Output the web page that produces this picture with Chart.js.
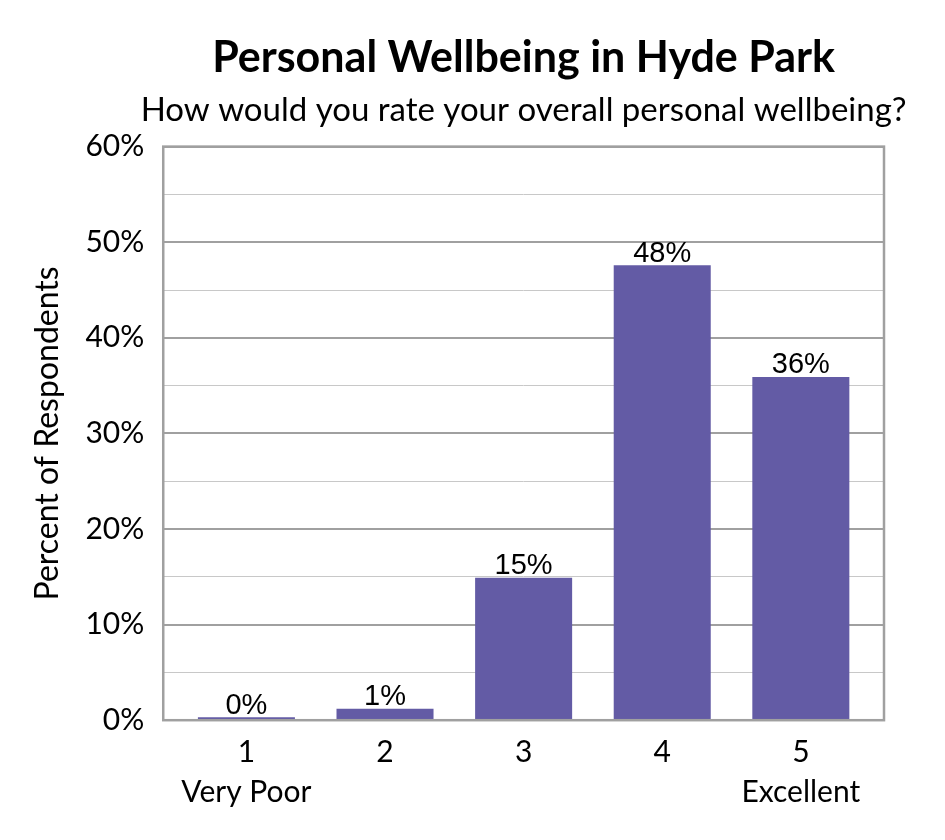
<!DOCTYPE html>
<html>
<head>
<meta charset="utf-8">
<script src="https://cdn.jsdelivr.net/npm/chart.js@4.4.0/dist/chart.umd.min.js"></script>
<style>
  body { margin: 0; background: #fff; }
  #wrap { width: 945px; height: 840px; }
</style>
</head>
<body>
<div id="wrap"><canvas id="wellbeingChart"></canvas></div>
<script>
const ratingValues = [1, 2, 3, 4, 5];
const ratingNames = ['Very Poor', '', '', '', 'Excellent'];
const percents = [0.3, 1.2, 14.9, 47.6, 35.9];
const pctLabels = ['0%', '1%', '15%', '48%', '36%'];
const subtitleText = 'How would you rate your overall personal wellbeing?';

const FONT = 'Lato, "Open Sans", sans-serif';

// value labels above each bar
const barLabels = {
    id: 'barLabels',
    afterDatasetsDraw(chart) {
        const ctx = chart.ctx;
        const meta = chart.getDatasetMeta(0);
        ctx.save();
        ctx.font = '29px "Liberation Sans", Arial, sans-serif';
        ctx.fillStyle = '#000';
        ctx.textAlign = 'center';
        ctx.textBaseline = 'bottom';
        meta.data.forEach((bar, i) => {
            ctx.fillText(pctLabels[i], bar.x, bar.y + 3);
        });
        ctx.restore();
    }
};

// grey frame round the plot area + subtitle (it runs wider than the plot)
const plotFrame = {
    id: 'plotFrame',
    afterDraw(chart) {
        const a = chart.chartArea;
        const ctx = chart.ctx;
        ctx.save();
        ctx.strokeStyle = '#a0a0a0';
        ctx.lineWidth = 2.5;
        ctx.strokeRect(a.left, a.top, a.right - a.left, a.bottom - a.top);

        ctx.font = '33px ' + FONT;
        ctx.fillStyle = '#000';
        ctx.textAlign = 'center';
        ctx.textBaseline = 'alphabetic';
        ctx.fillText(subtitleText, (a.left + a.right) / 2, a.top - 26);
        ctx.restore();
    }
};

const ctx = document.getElementById('wellbeingChart').getContext('2d');
const chart = new Chart(ctx, {
    type: 'bar',
    data: {
        datasets: [{
            data: ratingValues.map((r, i) => ({ x: r, y: percents[i] })),
            backgroundColor: '#635ba5',
            barPercentage: 0.7,
            categoryPercentage: 1.0,
        }]
    },
    options: {
        responsive: true,
        maintainAspectRatio: false,
        animation: false,
        devicePixelRatio: 1,
        layout: { padding: { left: 28, right: 61, top: 32, bottom: 16 } },
        plugins: {
            legend: { display: false },
            tooltip: { enabled: false },
            title: {
                display: true,
                text: 'Personal Wellbeing in Hyde Park',
                fullSize: false,
                color: '#000',
                font: { family: FONT, size: 43, weight: 'bold' },
                padding: { top: 0, bottom: 63 },
            },
        },
        scales: {
            x: {
                type: 'linear',
                min: 0.4,
                max: 5.6,
                offset: false,
                grid: { display: false, drawTicks: false },
                border: { display: false },
                ticks: {
                    stepSize: 1,
                    includeBounds: false,
                    autoSkip: false,
                    color: '#000',
                    font: { family: FONT, size: 30, lineHeight: 1.33 },
                    padding: 12,
                    maxRotation: 0,
                    callback: v => {
                        const i = ratingValues.indexOf(v);
                        if (i < 0) return '';
                        return ratingNames[i] ? [String(v), ratingNames[i]] : String(v);
                    },
                },
            },
            y: {
                min: 0,
                max: 60,
                border: { display: false },
                grid: {
                    drawTicks: false,
                    color: c => (c.tick && c.tick.value % 10 === 0) ? '#a0a0a0' : '#c8c8c8',
                    lineWidth: c => (c.tick && c.tick.value % 10 === 0) ? 2 : 1,
                },
                ticks: {
                    stepSize: 5,
                    color: '#000',
                    font: { family: FONT, size: 30 },
                    padding: 19,
                    callback: v => (v % 10 === 0 ? v + '%' : ''),
                },
                title: {
                    display: true,
                    text: 'Percent of Respondents',
                    color: '#000',
                    font: { family: FONT, size: 32 },
                    padding: { top: 0, bottom: 0 },
                },
            },
        },
    },
    plugins: [barLabels, plotFrame],
});
</script>
</body>
</html>
